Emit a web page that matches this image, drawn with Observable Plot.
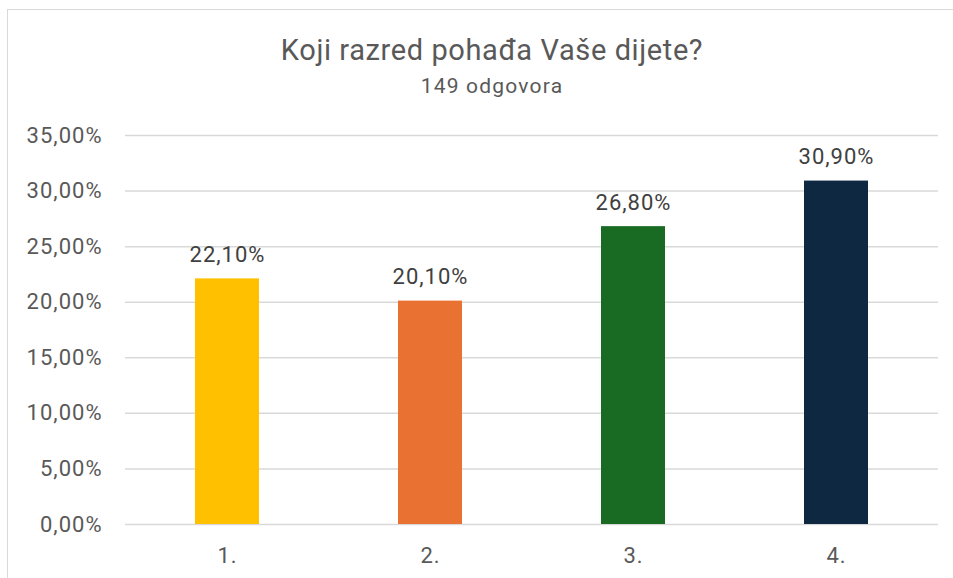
<!DOCTYPE html>
<html>
<head>
<meta charset="utf-8">
<script src="https://cdn.jsdelivr.net/npm/d3@7"></script>
<script src="https://cdn.jsdelivr.net/npm/@observablehq/plot@0.6"></script>
<style>
  html, body { margin: 0; padding: 0; background: #fff; overflow: hidden; }
  body { width: 953px; height: 578px; position: relative; font-family: Roboto, "Open Sans", sans-serif; }
  #frame { position: absolute; left: 7px; top: 9px; width: 1000px; height: 700px; border: 1.5px solid #d9d9d9; box-sizing: border-box; }
  #head { position: absolute; left: 0; top: 0; width: 984px; height: 120px; text-align: center; color: #595959; }
  #title { position: absolute; left: 0; right: 0; top: 33px; font-size: 29px; line-height: 34px; letter-spacing: 0.6px; }
  #sub { position: absolute; left: 0; right: 0; top: 73px; font-size: 21px; line-height: 26px; letter-spacing: 1.2px; }
  #chart { position: absolute; left: 0; top: 120px; }
  #chart svg text { letter-spacing: 1px; }
</style>
</head>
<body>
<div id="frame"></div>
<div id="head"><div id="title">Koji razred pohađa Vaše dijete?</div><div id="sub">149 odgovora</div></div>
<div id="chart"></div>
<script>
const categories = ["1.", "2.", "3.", "4."];
const values = [22.1, 20.1, 26.8, 30.9];
const colors = ["#FFC000", "#E97132", "#196B24", "#0E2841"];
const yTicks = [0, 5, 10, 15, 20, 25, 30, 35];

const data = categories.map((c, i) => ({cat: c, value: values[i], color: colors[i]}));
const fmt = v => v.toFixed(2).replace(".", ",") + "%";

const plot = Plot.plot({
  width: 953,
  height: 458,
  marginTop: 15,
  marginBottom: 54,
  marginLeft: 125,
  marginRight: 15,
  style: {fontFamily: "Roboto, 'Open Sans', sans-serif", fontSize: "22px", color: "#595959", background: "transparent"},
  x: {domain: categories, paddingInner: 0.685, paddingOuter: 0.3425, label: null, tickSize: 0, tickPadding: 23},
  y: {domain: [0, 35], ticks: yTicks, tickFormat: fmt, label: null, tickSize: 0, tickPadding: 23},
  marks: [
    Plot.gridY(yTicks, {stroke: "#d9d9d9", strokeOpacity: 1, strokeWidth: 1.5}),
    Plot.barY(data, {x: "cat", y: "value", fill: "color"}),
    Plot.text(data, {x: "cat", y: "value", text: d => fmt(d.value), dy: -24, fill: "#404040", fontSize: 22})
  ]
});
document.getElementById("chart").appendChild(plot);
</script>
</body>
</html>
